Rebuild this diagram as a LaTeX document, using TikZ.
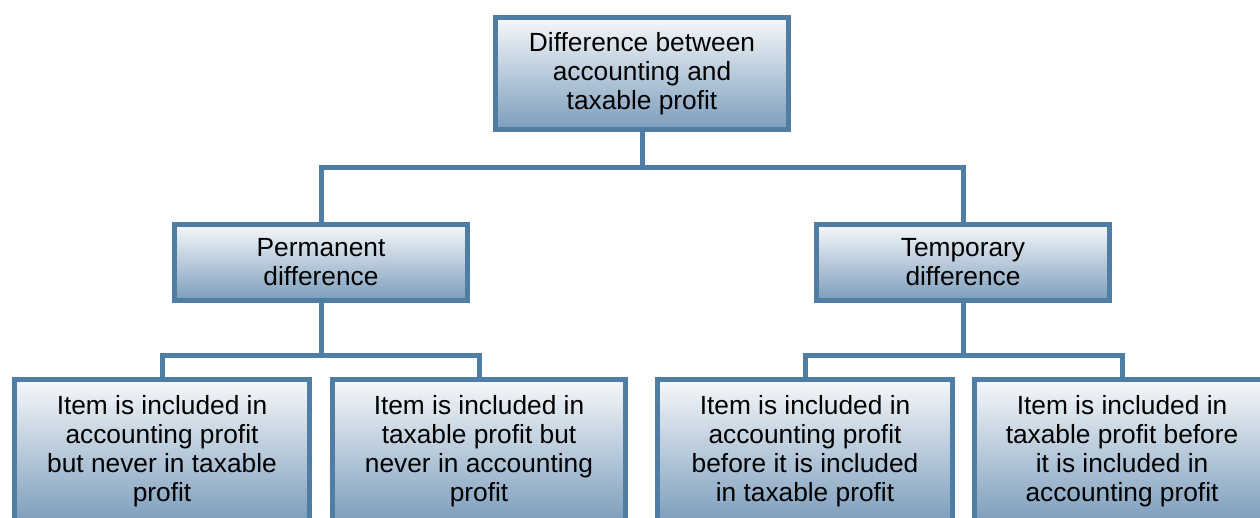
\documentclass[tikz,border=0pt]{standalone}
\usepackage{fontspec}
\setmainfont{Liberation Sans}
\definecolor{bord}{HTML}{4F7DA3}
\definecolor{topc}{HTML}{F6F8FA}
\definecolor{botc}{HTML}{7C9DBC}
\begin{document}
\begin{tikzpicture}[x=1pt,y=-1pt,
  box/.style={draw=bord, line width=5pt, top color=topc, bottom color=botc,
    align=center, font=\fontsize{26.3}{29}\selectfont, inner sep=0pt},
  conn/.style={draw=bord, line width=5pt}]
\useasboundingbox (0,0) rectangle (1260,518);
\begin{scope}
\clip (0,0) rectangle (1260,518);
\node[box, minimum width=293pt, minimum height=112pt] (top) at (642,73.5)
  {Difference between\\accounting and\\taxable profit};
\node[box, minimum width=293pt, minimum height=76pt] (perm) at (321,262.5)
  {Permanent\\difference};
\node[box, minimum width=293pt, minimum height=76pt] (temp) at (963,262.5)
  {Temporary\\difference};
\node[box, minimum width=295pt, minimum height=143pt] (b1) at (162,451)
  {Item is included in\\accounting profit\\but never in taxable\\profit};
\node[box, minimum width=293pt, minimum height=143pt] (b2) at (479,451)
  {Item is included in\\taxable profit but\\never in accounting\\profit};
\node[box, minimum width=295pt, minimum height=143pt] (b3) at (805,451)
  {Item is included in\\accounting profit\\before it is included\\in taxable profit};
\node[box, minimum width=295pt, minimum height=143pt] (b4) at (1122,451)
  {Item is included in\\taxable profit before\\it is included in\\accounting profit};
\coordinate (j0) at (642,168);
\coordinate (j1) at (321,355);
\coordinate (j2) at (963,355);
\draw[conn] (top.south) -- (j0);
\draw[conn] (j0) -| (perm.north);
\draw[conn] (j0) -| (temp.north);
\draw[conn] (perm.south) -- (j1);
\draw[conn] (j1) -| (b1.north);
\draw[conn] (j1) -| (b2.north);
\draw[conn] (temp.south) -- (j2);
\draw[conn] (j2) -| (b3.north);
\draw[conn] (j2) -| (b4.north);
\end{scope}
\end{tikzpicture}
\end{document}
